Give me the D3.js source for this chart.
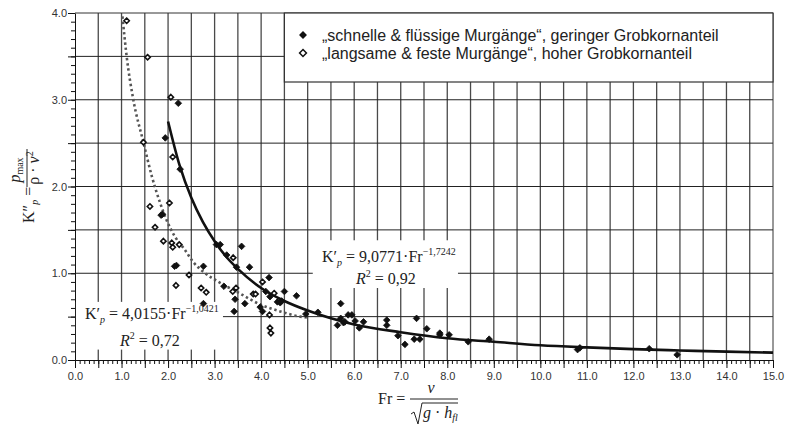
<!doctype html>
<html lang="de">
<head>
<meta charset="utf-8">
<title>Kp - Fr</title>
<script src="https://cdn.jsdelivr.net/npm/d3@7"></script>
<style>
  body { margin: 0; background: #fff; }
  svg { display: block; background: #fff; }
  .axis text { font-family: "Liberation Sans", Arial, sans-serif; font-size: 11px; fill: #333; }
  .axis line, .axis path { stroke: #111; }
  .legend { font-family: "Liberation Sans", Arial, sans-serif; font-size: 16px; fill: #222; }
  .math { font-family: "Liberation Serif", "Times New Roman", serif; fill: #222; }
</style>
</head>
<body>
<div id="chart"></div>
<script>
// "schnelle & flüssige Murgänge" (gefüllte Rauten)
var frFast = [1.85,1.88,1.94,2.14,2.18,2.22,2.26,2.76,2.76,3.04,3.12,3.20,3.26,3.42,3.44,3.47,3.58,3.65,3.75,3.98,
              4.03,4.10,4.17,4.19,4.35,4.41,4.44,4.50,4.76,4.96,5.22,5.64,5.71,5.71,5.77,5.80,5.87,5.95,6.02,6.11,
              6.20,6.70,6.70,6.94,7.09,7.29,7.34,7.41,7.56,7.84,7.84,8.04,8.45,8.90,10.80,10.85,12.34,12.94];
var kpFast = [1.67,1.68,2.56,1.08,1.09,2.96,2.20,1.08,0.65,1.33,1.33,0.85,1.21,0.56,0.70,1.07,1.31,0.65,1.07,0.61,
              0.56,0.79,0.95,0.73,0.67,0.66,0.68,0.79,0.74,0.53,0.55,0.40,0.65,0.48,0.43,0.44,0.52,0.52,0.45,0.37,
              0.44,0.46,0.40,0.28,0.18,0.24,0.48,0.24,0.36,0.31,0.29,0.29,0.21,0.24,0.12,0.14,0.13,0.06];

// "langsame & feste Murgänge" (offene Rauten)
var frSlow = [1.11,1.47,1.56,1.61,1.72,1.90,2.03,2.06,2.08,2.10,2.10,2.17,2.24,2.45,2.71,2.82,3.39,3.40,3.46,3.83,
              3.88,4.03,4.18,4.19,4.21,4.28];
var kpSlow = [3.91,2.51,3.49,1.77,1.53,1.37,1.81,3.03,1.35,2.34,1.30,0.86,1.33,0.98,0.83,0.78,0.79,1.18,0.83,0.76,
              0.76,0.90,0.52,0.37,0.31,0.77];

// Trendlinien
var frFitFast = [2.0,2.25,2.5,2.75,3.0,3.25,3.5,4.0,4.5,5,6,7,8,9,10,11,12,13,14,15];
var kpFitFast = [2.75,2.24,1.87,1.59,1.37,1.19,1.05,0.83,0.68,0.57,0.41,0.32,0.25,0.21,0.17,0.145,0.125,0.11,0.096,0.085];
var frFitSlow = [1.02,1.11,1.25,1.47,1.65,1.83,1.97,2.15,2.36,2.54,2.75,3.12,3.5,3.98,4.41,4.84,5.0];
var kpFitSlow = [3.96,3.50,3.01,2.51,2.12,1.81,1.61,1.42,1.27,1.13,1.02,0.89,0.78,0.64,0.56,0.50,0.49];

var legendLabels = ["\u201Eschnelle & flüssige Murgänge\u201C, geringer Grobkornanteil",
                    "\u201Elangsame & feste Murgänge\u201C, hoher Grobkornanteil"];

var width = 788, height = 426;

var svg = d3.select("#chart").append("svg").attr("width", width).attr("height", height);

var x = d3.scaleLinear().domain([0, 15]).range([75, 773]);
var y = d3.scaleLinear().domain([0, 4]).range([360, 13]);

var halfSteps = d3.range(1, 30).map(function(i) { return i / 2; });
var tenths = d3.range(0, 151).map(function(i) { return i / 10; });
var yTenths = d3.range(0, 41).map(function(i) { return i / 10; });

// gitter
svg.append("g").selectAll("line").data(halfSteps).enter().append("line")
  .attr("x1", function(d) { return x(d); }).attr("x2", function(d) { return x(d); })
  .attr("y1", y(0)).attr("y2", y(4))
  .attr("stroke", "#4a4a4a").attr("stroke-width", 1.3);
svg.append("g").selectAll("line").data([0.5,1,1.5,2,2.5,3,3.5]).enter().append("line")
  .attr("x1", x(0)).attr("x2", x(15))
  .attr("y1", function(d) { return y(d); }).attr("y2", function(d) { return y(d); })
  .attr("stroke", "#222").attr("stroke-width", 1);
// rahmen oben / rechts
svg.append("line").attr("x1", x(0)).attr("x2", x(15)).attr("y1", y(4)).attr("y2", y(4)).attr("stroke", "#333");
svg.append("line").attr("x1", x(15)).attr("x2", x(15)).attr("y1", y(0)).attr("y2", y(4)).attr("stroke", "#333");

// achsen
svg.append("g").attr("class", "axis").attr("transform", "translate(0," + y(0) + ")")
  .call(d3.axisBottom(x).tickValues(tenths).tickSize(4).tickFormat(""))
  .call(function(g) { g.select(".domain").remove(); });
svg.append("g").attr("class", "axis").attr("transform", "translate(0," + y(0) + ")")
  .call(d3.axisBottom(x).tickValues(d3.range(0, 31).map(function(i) { return i / 2; }))
    .tickSize(8).tickPadding(4).tickSizeOuter(0)
    .tickFormat(function(d) { return d % 1 === 0 ? d.toFixed(1) : ""; }));

svg.append("g").attr("class", "axis").attr("transform", "translate(" + x(0) + ",0)")
  .call(d3.axisLeft(y).tickValues(yTenths).tickSize(4).tickFormat(""))
  .call(function(g) { g.select(".domain").remove(); });
svg.append("g").attr("class", "axis").attr("transform", "translate(" + x(0) + ",0)")
  .call(d3.axisLeft(y).tickValues(d3.range(0, 9).map(function(i) { return i / 2; }))
    .tickSize(7).tickPadding(1).tickSizeOuter(0)
    .tickFormat(function(d) { return d % 1 === 0 ? d.toFixed(1) : ""; }));

// weisse felder hinter den gleichungen
svg.append("rect").attr("x", x(5.11)).attr("y", y(1.38))
  .attr("width", x(8.23) - x(5.11)).attr("height", y(0.83) - y(1.38)).attr("fill", "#fff");
svg.append("rect").attr("x", x(0.02)).attr("y", y(0.67))
  .attr("width", x(3.18) - x(0.02)).attr("height", y(0.12) - y(0.67)).attr("fill", "#fff");

// trendlinien
var line = d3.line().x(function(d) { return x(d[0]); }).y(function(d) { return y(d[1]); })
  .curve(d3.curveMonotoneX);
svg.append("path").datum(d3.zip(frFitSlow, kpFitSlow)).attr("d", line)
  .attr("fill", "none").attr("stroke", "#555").attr("stroke-width", 2.6)
  .attr("stroke-dasharray", "2.4,2.8");
svg.append("path").datum(d3.zip(frFitFast, kpFitFast)).attr("d", line)
  .attr("fill", "none").attr("stroke", "#111").attr("stroke-width", 2.6);

// punkte
var diamond = d3.symbol().type(d3.symbolDiamond2);
svg.append("g").selectAll("path").data(d3.zip(frSlow, kpSlow)).enter().append("path")
  .attr("d", diamond.size(18)())
  .attr("transform", function(d) { return "translate(" + x(d[0]) + "," + y(d[1]) + ")"; })
  .attr("fill", "#fff").attr("stroke", "#111").attr("stroke-width", 1.6);
svg.append("g").selectAll("path").data(d3.zip(frFast, kpFast)).enter().append("path")
  .attr("d", diamond.size(28)())
  .attr("transform", function(d) { return "translate(" + x(d[0]) + "," + y(d[1]) + ")"; })
  .attr("fill", "#111").attr("stroke", "#111").attr("stroke-width", 0.8);

// legende
svg.append("rect").attr("x", x(4.5)).attr("y", y(4))
  .attr("width", x(15) - x(4.5)).attr("height", 69)
  .attr("fill", "#fff").attr("stroke", "#333").attr("stroke-width", 1.2);
svg.append("path").attr("d", d3.symbol().type(d3.symbolDiamond2).size(40)())
  .attr("transform", "translate(303,35)").attr("fill", "#111");
svg.append("path").attr("d", d3.symbol().type(d3.symbolDiamond2).size(30)())
  .attr("transform", "translate(303,53)").attr("fill", "#fff").attr("stroke", "#111").attr("stroke-width", 1.5);
svg.append("text").attr("class", "legend").attr("x", 322).attr("y", 40.5).text(legendLabels[0]);
svg.append("text").attr("class", "legend").attr("x", 322).attr("y", 58.5).text(legendLabels[1]);

// formeltext mit hoch/tief
function mathText(g, px, py, parts, anchor) {
  var t = g.append("text").attr("class", "math").attr("x", px).attr("y", py)
    .attr("text-anchor", anchor || "start");
  var shift = 0;
  parts.forEach(function(p) {
    var s = p.sh || 0;
    t.append("tspan").attr("dy", s - shift)
      .attr("font-size", (p.fs || 16) + "px")
      .attr("font-style", p.it ? "italic" : "normal")
      .text(p.s);
    shift = s;
  });
  return t;
}

mathText(svg, 322, 262, [{s: "K\u2032"}, {s: "p", it: true, fs: 10, sh: 4}, {s: " = 9,0771\u00B7Fr"},
  {s: "\u22121,7242", fs: 10, sh: -7}]);
mathText(svg, 356, 284, [{s: "R", it: true}, {s: "2", fs: 10, sh: -7}, {s: " = 0,92"}]);
mathText(svg, 85, 319, [{s: "K\u2032"}, {s: "p", it: true, fs: 10, sh: 4}, {s: " = 4,0155\u00B7Fr"},
  {s: "\u22121,0421", fs: 10, sh: -7}]);
mathText(svg, 120, 346, [{s: "R", it: true}, {s: "2", fs: 10, sh: -7}, {s: " = 0,72"}]);

// x-achsentitel
var xl = svg.append("g");
mathText(xl, 378, 404, [{s: "Fr ="}]);
mathText(xl, 431, 393, [{s: "v", it: true}], "middle");
xl.append("line").attr("x1", 410).attr("x2", 458).attr("y1", 399).attr("y2", 399).attr("stroke", "#222");
xl.append("path").attr("d", "M411,414 L414,412 L418,424 L422,403 L458,403")
  .attr("fill", "none").attr("stroke", "#222").attr("stroke-width", 1);
mathText(xl, 423, 418, [{s: "g", it: true}, {s: " \u00B7 "}, {s: "h", it: true}, {s: "fl", it: true, fs: 10, sh: 3}]);

// y-achsentitel (gedreht)
var yl = svg.append("g").attr("transform", "rotate(-90)");
mathText(yl, -223, 34, [{s: "K\u2033"}, {s: "p", it: true, fs: 10, sh: 4}, {s: " ="}]);
mathText(yl, -170, 20, [{s: "p", it: true}, {s: "max", fs: 10, sh: 3}], "middle");
yl.append("line").attr("x1", -187).attr("x2", -149).attr("y1", 27).attr("y2", 27).attr("stroke", "#222");
mathText(yl, -168, 39, [{s: "\u03C1 \u00B7 "}, {s: "v", it: true}, {s: "2", fs: 10, sh: -6}], "middle");
</script>
</body>
</html>
